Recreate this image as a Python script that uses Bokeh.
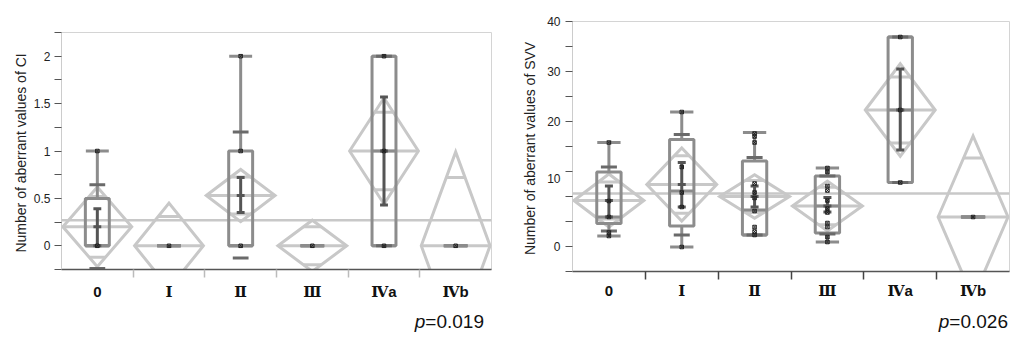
from bokeh.plotting import figure
from bokeh.models import FixedTicker, Range1d, Div
from bokeh.layouts import row, column
from bokeh.embed import file_html
from bokeh.resources import INLINE

categories = ["0", "Ⅰ", "Ⅱ", "Ⅲ", "Ⅳa", "Ⅳb"]

# ---- CI (left) ----
ci_q1 = [0, 0, 0, 0, 0, 0]
ci_median = [0, 0, 0, 0, 1, 0]
ci_q3 = [0.5, 0, 1, 0, 2, 0]
ci_whisk_lo = [0, 0, 0, 0, 0, 0]
ci_whisk_hi = [1, 0, 2, 0, 2, 0]
ci_mean = [0.2, 0, 0.53, 0, 1.0, 0]
ci_sd_lo = [-0.24, None, -0.13, None, 0, None]
ci_sd_hi = [0.645, None, 1.2, None, 2, None]
ci_err_lo = [0.0, None, 0.35, None, 0.43, None]
ci_err_hi = [0.39, None, 0.72, None, 1.57, None]
ci_diam_half = [0.42, 0.45, 0.275, 0.27, 0.56, 0.99]
ci_overlap_half = [0.32, 0.31, 0.195, 0.2, 0.41, 0.72]
ci_points = [[0, 1], [0], [0, 1, 2], [0], [0, 1, 2], [0]]
ci_grand_mean = 0.27
ci_p = "0.019"

# ---- SVV (right) ----
svv_q1 = [-0.4, -0.9, -2.7, -2.3, 7.8, 0.9]
svv_median = [0.9, 6.1, 2.3, 3.1, 22.3, 0.9]
svv_q3 = [9.9, 16.4, 12.1, 9.1, 36.9, 0.9]
svv_whisk_lo = [-2.9, -5.1, -2.7, -4.1, 7.8, 0.9]
svv_whisk_hi = [15.8, 21.9, 17.8, 10.7, 36.9, 0.9]
svv_mean = [4.2, 7.4, 5.0, 3.1, 22.3, 0.9]
svv_sd_lo = [-1.9, -2.7, -2.7, -2.5, 7.8, None]
svv_sd_hi = [10.9, 17.4, 12.8, 9.1, 36.9, None]
svv_err_lo = [0.9, 2.9, 2.9, 1.9, 14.3, None]
svv_err_hi = [7.1, 11.8, 7.1, 4.8, 30.5, None]
svv_diam_half = [5.3, 7.3, 4.35, 5.0, 9.25, 16.2]
svv_overlap_half = [3.7, 5.75, 3.2, 3.75, 6.6, 11.8]
svv_points = [
    [15.8, 4.1, 0.9, -2.2, -2.9],
    [21.9, 10.9, 5.8, 2.9, -5.1],
    [17.6, 17.0, 15.8, 7.6, 5.8, 4.7, 2.1, -1.1, -2.0, -2.7],
    [10.7, 9.9, 7.1, 6.2, 4.2, 2.6, 1.8, -0.3, -1.1, -3.1, -4.1],
    [36.9, 22.3, 7.8],
    [0.9],
]
svv_grand_mean = 5.6
svv_p = "0.026"

DIAM = "#c8c8c8"
BOX = "#8c8c8c"
SDC = "#6a6a6a"
ERR = "#555555"
FONT = "Liberation Sans"


def draw_groups(p, q1, med, q3, wlo, whi, mean, sdlo, sdhi, elo, ehi, dh, ov, pts, gm):
    n = len(categories)
    hw = 0.48
    p.segment(x0=[-0.5], x1=[5.5], y0=[gm], y1=[gm], line_color=DIAM, line_width=2.5)
    xs, ys = [], []
    mx0, mx1, my = [], [], []
    ox0, ox1, oy = [], [], []
    for i in range(n):
        m, h = mean[i], dh[i]
        xs.append([i - hw, i, i + hw, i])
        ys.append([m, m + h, m, m - h])
        mx0.append(i - hw); mx1.append(i + hw); my.append(m)
        frac = 1 - ov[i] / h
        for s in (1, -1):
            ox0.append(i - hw * frac); ox1.append(i + hw * frac); oy.append(m + s * ov[i])
    p.patches(xs=xs, ys=ys, fill_color=None, line_color=DIAM, line_width=3, line_join="miter")
    p.segment(x0=mx0, x1=mx1, y0=my, y1=my, line_color=DIAM, line_width=3)
    p.segment(x0=ox0, x1=ox1, y0=oy, y1=oy, line_color=DIAM, line_width=3)
    bw = 0.167
    cx = list(range(n))
    p.quad(left=[i - bw for i in cx], right=[i + bw for i in cx], bottom=q1, top=q3,
           fill_color=None, line_color=BOX, line_width=3)
    p.segment(x0=[i - bw for i in cx], x1=[i + bw for i in cx], y0=med, y1=med,
              line_color=BOX, line_width=3)
    p.segment(x0=cx, x1=cx, y0=q3, y1=whi, line_color=BOX, line_width=3)
    p.segment(x0=cx, x1=cx, y0=q1, y1=wlo, line_color=BOX, line_width=3)
    cw = 0.16
    p.segment(x0=[i - cw for i in cx] * 2, x1=[i + cw for i in cx] * 2, y0=list(whi) + list(wlo),
              y1=list(whi) + list(wlo), line_color=BOX, line_width=3)
    sw = 0.11
    sx0, sx1, sy = [], [], []
    for i in range(n):
        for v in (sdlo[i], sdhi[i]):
            if v is not None:
                sx0.append(i - sw); sx1.append(i + sw); sy.append(v)
    p.segment(x0=sx0, x1=sx1, y0=sy, y1=sy, line_color=SDC, line_width=3)
    ew = 0.055
    ex, e0, e1 = [], [], []
    kx0, kx1, ky = [], [], []
    for i in range(n):
        if elo[i] is not None:
            ex.append(i); e0.append(elo[i]); e1.append(ehi[i])
            for v in (elo[i], ehi[i]):
                kx0.append(i - ew); kx1.append(i + ew); ky.append(v)
            kx0.append(i - ew); kx1.append(i + ew); ky.append(mean[i])
    p.segment(x0=ex, x1=ex, y0=e0, y1=e1, line_color=ERR, line_width=3)
    p.segment(x0=kx0, x1=kx1, y0=ky, y1=ky, line_color=ERR, line_width=3)
    px, py = [], []
    for i in range(n):
        for v in pts[i]:
            px.append(i); py.append(v)
    p.scatter(px, py, marker="square_x", size=3.5, line_color="#222222", fill_color=None, line_width=1)


def style(p, xminor_color):
    p.xgrid.visible = False
    p.ygrid.visible = False
    p.outline_line_color = "#d4d4d4"
    p.outline_line_width = 1
    p.background_fill_color = "white"
    p.border_fill_color = "white"
    xa = p.xaxis[0]
    xa.ticker = FixedTicker(ticks=[0, 1, 2, 3, 4, 5], minor_ticks=[0.5, 1.5, 2.5, 3.5, 4.5])
    xa.major_label_overrides = {i: c for i, c in enumerate(categories)}
    xa.major_tick_out = 0
    xa.major_tick_in = 0
    xa.minor_tick_out = 8
    xa.minor_tick_in = 0
    xa.minor_tick_line_color = xminor_color
    xa.minor_tick_line_width = 1.5
    xa.axis_line_color = "#555555"
    xa.axis_line_width = 1.5
    xa.major_label_text_font = "Liberation Sans, DejaVu Serif"
    xa.major_label_text_font_style = "bold"
    xa.major_label_text_font_size = "15px"
    xa.major_label_text_color = "#111111"
    ya = p.yaxis[0]
    ya.axis_line_color = "#cccccc"
    ya.axis_line_width = 1
    ya.major_tick_line_color = "#555555"
    ya.minor_tick_line_color = "#555555"
    ya.major_label_text_font = FONT
    ya.major_label_text_font_size = "12px"
    ya.major_label_text_color = "#222222"
    ya.axis_label_text_font = FONT
    ya.axis_label_text_font_size = "14px"
    ya.axis_label_text_font_style = "normal"
    ya.axis_label_text_color = "#222222"


def pdiv(num, w):
    return Div(text='<span style="position:relative;left:7px"><i>p</i>=' + num + "</span>",
               width=w, height=24, margin=0,
               styles={"text-align": "right", "font-family": FONT, "font-size": "19px",
                       "color": "#111111", "line-height": "22px"})


# ---------- left figure ----------
p1 = figure(frame_width=430, frame_height=237, x_range=Range1d(-0.5, 5.5),
            y_range=Range1d(-0.25, 2.25), output_backend="svg", toolbar_location=None,
            min_border_left=61, min_border_right=21, min_border_top=32, min_border_bottom=42)
draw_groups(p1, ci_q1, ci_median, ci_q3, ci_whisk_lo, ci_whisk_hi, ci_mean, ci_sd_lo, ci_sd_hi,
            ci_err_lo, ci_err_hi, ci_diam_half, ci_overlap_half, ci_points, ci_grand_mean)
style(p1, "#bbbbbb")
p1.xaxis[0].major_label_standoff = 5
ya = p1.yaxis[0]
ya.ticker = FixedTicker(ticks=[0, 0.5, 1, 1.5, 2], minor_ticks=[-0.25, 0.25, 0.75, 1.25, 1.75, 2.25])
ya.major_label_overrides = {0: "0", 0.5: "0.5", 1: "1", 1.5: "1.5", 2: "2"}
ya.major_tick_out = 7
ya.major_tick_in = 0
ya.minor_tick_out = 7
ya.minor_tick_in = 0
ya.major_label_standoff = 4
ya.axis_label = "Number of aberrant values of  CI"
ya.axis_label_standoff = 2

# ---------- right figure ----------
p2 = figure(frame_width=437, frame_height=250, x_range=Range1d(-0.5, 5.5),
            y_range=Range1d(-10, 40), output_backend="svg", toolbar_location=None,
            min_border_left=60, min_border_right=1, min_border_top=21, min_border_bottom=40)
draw_groups(p2, svv_q1, svv_median, svv_q3, svv_whisk_lo, svv_whisk_hi, svv_mean, svv_sd_lo,
            svv_sd_hi, svv_err_lo, svv_err_hi, svv_diam_half, svv_overlap_half, svv_points,
            svv_grand_mean)
style(p2, "#444444")
p2.xaxis[0].major_label_standoff = 2
yb = p2.yaxis[0]
yb.ticker = FixedTicker(ticks=[-5, 8.6, 20, 30, 40],
                        minor_ticks=[-10, -5, 0, 5, 10, 15, 20, 25, 30, 35, 40])
yb.major_label_overrides = {-5: "0", 8.6: "10", 20: "20", 30: "30", 40: "40"}
yb.major_tick_out = 0
yb.major_tick_in = 0
yb.minor_tick_out = 7
yb.minor_tick_in = 0
yb.major_label_standoff = 5
yb.axis_label = "Number of aberrant values of  SVV"
yb.axis_label_standoff = 6

layout = row(column(p1, pdiv(ci_p, 477)), column(p2, pdiv(svv_p, 489)))
open("out.html", "w").write(file_html(layout, INLINE))
